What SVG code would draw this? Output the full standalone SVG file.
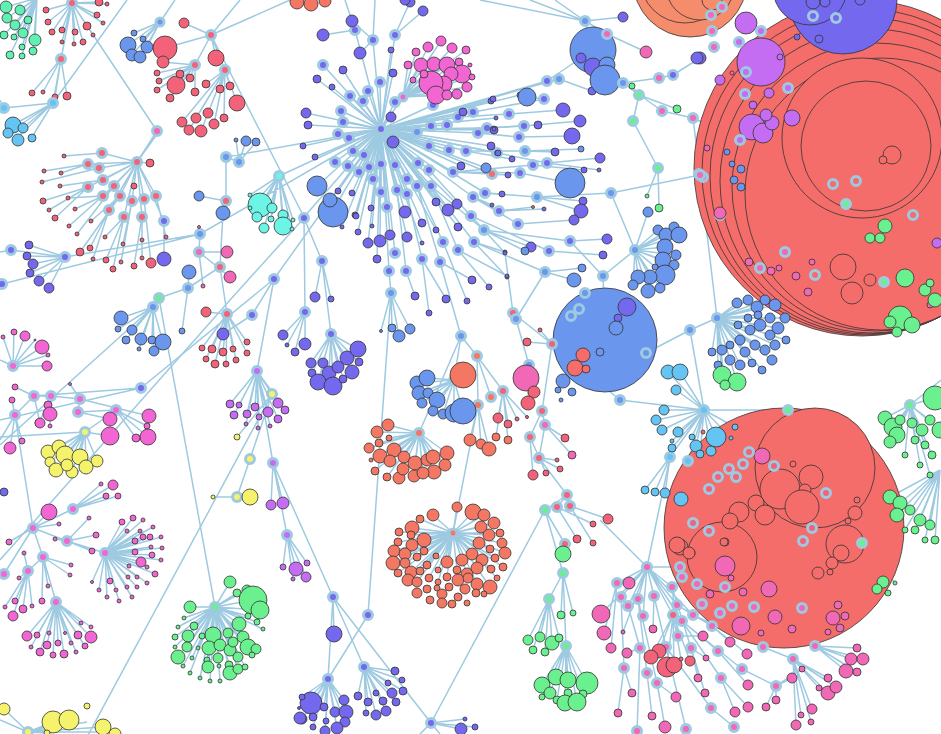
<svg xmlns="http://www.w3.org/2000/svg" width="941" height="734" viewBox="0 0 941 734">
<style>
.e{fill:none;stroke:#9ecae1;stroke-width:1.5}
.i{stroke:#9ecae1;stroke-width:3}
.l{stroke:#333;stroke-width:.8}
.pu{fill:#7468ee}.bl{fill:#6a96ee}.sk{fill:#64c4f4}.rd{fill:#f46d6a}.or{fill:#f47763}.sa{fill:#f58c6c}
.pk{fill:#f068b6}.mg{fill:#f266d4}.vi{fill:#c46cf2}.ye{fill:#f5f26c}.gr{fill:#6af08e}.mi{fill:#60f0b2}.cy{fill:#6cf4e6}.rp{fill:#f2637a}
</style>
<rect width="941" height="734" fill="#fff"/>
<g id="links" class="e">
<path d="M381 129L323 65M381 129L380 82M381 129L368 91M381 129L350 96M381 129L363 101M381 129L341 111M381 129L343 122M381 129L338 134M381 129L349 138M381 129L353 151M381 129L364 155M381 129L335 162M381 129L348 166M381 129L369 167M381 129L359 172M381 129L373 179M381 129L381 164M381 129L395 165M381 129L397 190M381 129L381 192M381 129L387 207M381 129L407 179M381 129L417 186M381 129L407 194M381 129L418 163M381 129L429 170M381 129L431 186M381 129L453 172M381 129L466 151M381 129L449 150M381 129L429 146M381 129L431 126M381 129L447 125M381 129L458 117M381 129L473 112M381 129L478 133M381 129L487 128M381 129L417 132M381 129L395 102M381 129L433 105M381 129L473 197M381 129L485 193M381 129L497 153M381 129L304 217M381 129L373 40M381 129L355 30M381 129L395 35M381 129L547 81M381 129L559 79M381 129L544 99M381 129L395 253M381 129L389 271M381 129L403 97"/>
<path d="M458 117L509 114M487 128L524 126M478 133L519 137M466 151L525 151M453 172L533 165M497 153L547 163M453 172L520 173M485 193L537 197M473 197L499 211M473 197L518 224M431 186L484 230M431 186L474 242M397 190L406 271M407 194L422 259M417 186L440 262M417 186L443 242M431 186L458 250M429 170L471 216M471 216L549 251M474 242L545 272M484 230L570 241"/>
<path d="M381 129L343 70M381 129L317 79M381 129L332 87M381 129L393 73M381 129L306 113M381 129L308 125M381 129L303 146M381 129L315 157M381 129L391 117M381 129L393 142M381 129L463 112M381 129L491 101M381 129L494 130M381 129L491 146M381 129L461 166M381 129L498 153M381 129L457 204M381 129L448 210M381 129L436 202M381 129L405 212M381 129L371 208M381 129L355 215M381 129L352 193M381 129L338 191M381 129L520 95M381 129L493 99M381 129L496 118M381 129L494 129M381 129L486 168M381 129L368 243M381 129L380 241M381 129L390 235M381 129L377 259M381 129L358 232M381 129L356 216M381 129L372 226M381 129L342 227M381 129L422 223M381 129L436 230M381 129L458 227M381 129L407 237M381 129L422 243M381 129L492 174M373 40L352 21M355 30L323 35M373 40L360 53M395 35L410 2M395 35L423 11M381 129L391 50M381 129L317 186M381 129L330 200M381 129L333 210M373 40L375 0M355 30L345 0"/>
<path d="M509 114L563 110M524 126L580 121M519 137L572 136M487 128L538 125M525 151L555 152M525 151L581 149M466 151L512 159M547 163L600 158M547 163L599 170M453 172L508 175M520 173L570 183M533 165L584 170M485 193L502 194M473 197L492 205M499 211L533 207M499 211L544 209M537 197L583 201M537 197L581 211M518 224L574 220M570 241L607 239M549 251L603 255M484 230L531 247M484 230L525 251M545 272L582 268M545 272L574 280M474 242L505 252M474 242L507 277M544 99L527 97M406 271L415 296M422 259L446 299M422 259L429 313M440 262L472 280M458 250L489 287M458 250L507 276M443 242L467 301M471 216L505 253M559 79L592 91M547 81L581 58"/>
<path d="M403 97L408 65M403 97L421 65M403 97L434 64M403 97L447 65M403 97L459 62M403 97L470 65M403 97L462 74M403 97L451 74M403 97L444 84M403 97L431 83M403 97L436 95M403 97L447 95M403 97L457 94M403 97L467 87M403 97L472 77M403 97L424 74M403 97L428 47M403 97L441 41M403 97L452 48M403 97L416 52M403 97L466 50M403 97L413 80"/>
<path d="M585 21L593 50M585 21L623 17M585 21L607 34M607 34L646 52M585 21L555 0M585 21L480 0M585 21L530 0M593 67L623 83M623 83L659 78M659 78L673 75M673 75L700 58M623 83L662 111M662 111L693 118M623 83L639 95M639 95L632 86M639 95L677 109M639 95L633 121M633 121L658 168M658 168L647 196M658 168L659 208M537 197L611 193M611 193L700 175M611 193L635 250M603 276L635 250M570 241L603 276M603 276L605 330M693 118L740 140M693 118L700 175"/>
<path d="M635 250L658 230M635 250L666 235M635 250L674 227M635 250L679 235M635 250L665 247M635 250L676 255M635 250L663 260M635 250L674 265M635 250L655 267M635 250L665 275M635 250L650 277M635 250L638 277M635 250L633 285M635 250L648 291M635 250L660 288M635 250L648 212"/>
<path d="M37 -2L6 7M37 -2L7 18M37 -2L15 25M37 -2L23 33M37 -2L14 37M37 -2L35 40M37 -2L4 35M37 -2L22 47M37 -2L33 51M37 -2L10 55M37 -2L22 56M37 -2L20 10M37 -2L28 20"/>
<path d="M72 3L46 10M72 3L48 22M72 3L52 32M72 3L62 30M72 3L75 32M72 3L62 42M72 3L74 44M72 3L83 42M72 3L87 26M72 3L97 15M72 3L103 23M72 3L93 35M72 3L99 2M72 3L107 4M72 3L61 59M61 59L32 93M61 59L43 92M61 59L55 97M61 59L67 96M61 59L53 103M53 103L13 125M53 103L23 128M53 103L8 133M53 103L18 137M53 103L32 137M53 103L4 108M72 3L157 131M127 0L53 103M157 131L137 162M4 108L0 100"/>
<path d="M160 22L128 45M160 22L134 33M160 22L143 39M160 22L147 47M160 22L132 55M160 22L140 57M160 22L175 0M211 35L165 48M211 35L184 23M211 35L216 58M211 35L195 65M211 35L225 70M211 35L240 0M195 65L163 62M195 65L176 85M195 65L180 74M195 65L190 78M195 65L195 92M195 65L170 98M195 65L157 73M195 65L159 81M195 65L157 90M225 70L206 84M225 70L220 89M225 70L230 86M225 70L237 103M225 70L208 113M225 70L196 118M225 70L182 122M225 70L189 130M225 70L201 131M225 70L214 124M225 70L224 118M211 35L290 0M211 35L304 217"/>
<path d="M137 162L102 153M137 162L88 164M137 162L99 168M137 162L103 180M137 162L114 186M137 162L88 187M137 162L103 196M137 162L120 196M137 162L132 201M137 162L144 199M137 162L156 196M137 162L109 210M137 162L124 217M137 162L142 217M137 162L150 163M137 162L134 186M137 162L164 221M164 221L164 259M102 153L64 156M88 164L44 171M88 164L61 173M99 168L42 182M103 180L60 186M88 187L43 201M88 187L49 210M88 187L55 218M103 196L68 198M103 196L75 209M114 186L69 226M114 186L77 234M120 196L91 221M120 196L80 252M109 210L90 248M109 210L93 259M124 217L106 260M124 217L113 269M124 217L105 237M132 201L123 244M132 201L121 262M142 217L142 240M142 217L134 266M142 217L142 258M144 199L151 263M156 196L166 237M137 162L160 130"/>
<path d="M65 257L29 245M65 257L27 256M65 257L33 264M65 257L30 273M65 257L39 281M65 257L49 288M65 257L11 250M11 250L0 252M65 257L200 234M2 284L200 234M0 285L2 284M200 234L381 129M200 234L199 252M199 252L227 252M199 252L230 277M199 252L203 286M200 234L199 227M226 157L226 201M226 201L223 213M226 157L239 162M239 162L246 141M239 162L256 142M239 162L236 140M226 201L199 196M223 213L220 267M220 267L227 314M220 267L188 288M188 288L189 272M188 288L182 331M188 288L159 298M159 298L153 307M159 298L215 607M153 307L0 445M153 307L121 318M153 307L118 329M153 307L132 330M153 307L126 340M153 307L141 339M153 307L152 340M153 307L163 342M153 307L154 351M153 307L139 349M226 157L381 129M279 176L381 129M279 176L260 205M279 176L272 208M279 176L257 217M279 176L264 228M279 176L271 219M279 176L283 215M279 176L283 226M279 176L250 195M279 176L250 208M279 176L293 220M279 176L292 229M274 279L381 129M274 279L252 315M252 315L223 334M227 314L206 312M227 314L202 348M227 314L212 349M227 314L223 352M227 314L233 349M227 314L247 342M227 314L247 353M227 314L206 359M227 314L215 364M227 314L226 364M227 314L236 360M274 279L257 371M141 388L274 279M0 420L141 388M141 388L34 396"/>
<path d="M257 371L230 404M257 371L239 405M257 371L234 415M257 371L247 414M257 371L255 407M257 371L259 417M257 371L268 412M257 371L278 403M257 371L285 410M257 371L278 419M257 371L246 424M257 371L258 428M257 371L270 426M257 371L272 394M272 394L237 437M272 394L80 750M272 394L250 459M250 459L237 497M237 497L250 497M237 497L213 497M257 371L273 463M273 463L271 505M273 463L283 503M273 463L287 535M287 535L283 567M287 535L296 569M287 535L306 577M287 535L293 579M287 535L307 563M273 463L333 597"/>
<path d="M13 366L14 332M13 366L25 336M13 366L42 347M13 366L47 366M13 366L48 355M13 366L35 340M13 366L3 337M13 366L0 360M15 415L34 396M34 396L51 396M51 396L80 399M80 399L149 416M80 399L78 412M78 412L110 419M116 410L148 437M78 412L116 410M116 410L147 426M116 410L136 438M34 396L15 387M80 399L70 384M15 415L12 400M51 396L48 405M51 396L50 414M51 396L39 423M51 396L50 426M15 415L10 448M15 415L22 441M34 396L40 423M15 415L33 528M0 440L15 415M85 432L48 452M85 432L59 447M85 432L65 455M85 432L80 457M85 432L97 461M85 432L50 462M85 432L56 470M85 432L72 472M85 432L86 467M85 432L67 465M85 432L116 410M85 432L110 436M0 437L85 432"/>
<path d="M33 528L73 509M33 528L67 541M67 541L105 553M33 528L43 557M43 557L28 571M33 528L4 574M43 557L56 602M73 509L101 484M73 509L113 485M73 509L106 496M73 509L118 496M33 528L49 512M33 528L59 524M33 528L9 542M67 541L55 539M67 541L89 518M67 541L96 535M67 541L92 551M43 557L71 565M43 557L70 575M43 557L48 586M43 557L42 601M28 571L19 578M28 571L15 601M28 571L23 609M28 571L13 616M28 571L32 606M28 571L5 607M28 571L24 553"/>
<path d="M105 553L122 522M105 553L133 518M105 553L143 520M105 553L153 527M105 553L161 537M105 553L162 548M105 553L161 560M105 553L155 574M105 553L147 583M105 553L137 587M105 553L132 597M105 553L119 601M105 553L107 597M105 553L99 590M105 553L92 582M105 553L110 581M105 553L116 590M105 553L127 587M105 553L137 577M105 553L147 567M105 553L152 555M105 553L151 547M105 553L141 562M105 553L135 552M105 553L129 566M105 553L128 577M105 553L135 541M105 553L143 537M105 553L150 537M105 553L140 531M105 553L127 531"/>
<path d="M56 602L27 636M56 602L37 635M56 602L49 633M56 602L65 633M56 602L78 635M56 602L91 637M56 602L81 623M56 602L91 627M56 602L47 645M56 602L58 643M56 602L71 643M56 602L85 646M56 602L31 647M56 602L40 652M56 602L53 655M56 602L64 654M56 602L76 652"/>
<path d="M215 607L230 582M215 607L190 607M215 607L237 593M215 607L247 590M215 607L253 600M215 607L260 610M215 607L248 616M215 607L257 622M215 607L263 629M215 607L239 624M215 607L228 633M215 607L213 635M215 607L202 636M215 607L194 626M215 607L184 618M215 607L178 627M215 607L175 637M215 607L188 636M215 607L187 647M215 607L175 647M215 607L178 657M215 607L183 666M215 607L192 658M215 607L198 648M215 607L209 648M215 607L220 645M215 607L230 650M215 607L233 642M215 607L243 637M215 607L248 647M215 607L256 649M215 607L252 655M215 607L238 657M215 607L229 665M215 607L218 658M215 607L207 660M215 607L208 667M215 607L219 666M215 607L230 673M215 607L238 669M215 607L245 667M215 607L200 678M215 607L210 681M215 607L220 681M215 607L190 673"/>
<path d="M28 732L4 709M28 732L53 722M28 732L69 720M28 732L87 722M28 732L103 727M28 732L115 732M28 732L47 733M28 732L0 720"/>
<path d="M304 218L322 261M322 261L315 297M322 261L331 299M322 261L331 334M304 218L305 312M305 312L283 335M305 312L287 345M305 312L295 352M305 312L305 344M331 334L311 363M331 334L312 373M331 334L323 363M331 334L329 373M331 334L318 382M331 334L333 386M331 334L338 367M331 334L347 358M331 334L358 349M331 334L359 362M331 334L352 372M331 334L343 379M389 271L391 293M391 293L392 328M391 293L399 336M391 293L410 329M391 293L381 331M391 293L368 615M304 218L230 300M230 300L0 560"/>
<path d="M440 262L461 336M461 336L477 356M461 336L454 380M454 380L417 383M454 380L427 378M454 380L419 393M454 380L428 393M454 380L422 403M454 380L437 400M454 380L433 411M454 380L443 414M454 380L454 413M454 380L463 411M454 380L463 375M461 336L419 433M419 433L377 432M419 433L388 425M419 433L389 438M419 433L369 448M419 433L379 443M419 433L394 450M419 433L380 456M419 433L390 461M419 433L404 457M419 433L415 463M419 433L427 460M419 433L433 457M419 433L447 453M419 433L445 465M419 433L434 472M419 433L414 476M419 433L399 478M419 433L387 477M419 433L375 471M419 433L403 469M419 433L423 473M419 433L371 460M477 356L478 405M478 405L470 440M478 405L481 444M478 405L489 449M477 356L491 397M477 356L503 391M503 391L498 418M503 391L508 424M503 391L496 437M503 391L508 440M503 391L517 419M503 391L527 417M478 405L453 533"/>
<path d="M453 533L457 507M453 533L473 512M453 533L484 515M453 533L433 515M453 533L420 519M453 533L494 523M453 533L481 527M453 533L412 528M453 533L399 532M453 533L411 535M453 533L424 540M453 533L489 535M453 533L500 533M453 533L398 542M453 533L412 545M453 533L394 551M453 533L405 554M453 533L424 551M453 533L479 543M453 533L502 543M453 533L490 549M453 533L505 553M453 533L472 554M453 533L436 556M453 533L447 562M453 533L462 560M453 533L482 560M453 533L495 558M453 533L503 567M453 533L393 563M453 533L405 563M453 533L417 557M453 533L427 565M453 533L411 572M453 533L420 571M453 533L438 570M453 533L447 577M453 533L457 570M453 533L467 574M453 533L477 568M453 533L491 569M453 533L398 573M453 533L408 580M453 533L417 582M453 533L429 578M453 533L438 582M453 533L458 580M453 533L468 578M453 533L477 584M453 533L490 587M453 533L497 578"/>
<path d="M545 272L516 319M516 319L529 365M513 313L552 344M505 253L513 313M552 344L527 342M552 344L540 330M552 344L542 411M542 411L545 425M542 411L530 437M545 425L539 458M539 458L567 495M539 458L557 460M539 458L560 469M545 425L565 438M545 425L572 455M530 437L533 475M530 437L546 473M529 365L526 378M529 365L534 392M529 365L528 403M567 495L545 510M567 495L557 507M567 495L570 506M545 510L565 544M545 510L563 573M557 507L593 524M557 507L577 539M570 506L593 543M570 506L608 519M545 510L431 723M565 544L563 554M563 573L549 599M563 573L566 646M563 573L561 615M563 573L573 613M549 599L528 640M549 599L540 637M549 599L533 650M549 599L545 652M549 599L552 643M549 599L559 638M566 646L542 685M566 646L556 677M566 646L568 680M566 646L587 683M566 646L550 693M566 646L568 693M566 646L583 694M566 646L557 700M566 646L565 703M566 646L577 702M566 646L542 697"/>
<path d="M333 597L334 634M333 597L328 679M333 597L364 667M368 615L328 679M333 597L431 723M328 679L311 703M328 679L302 697M328 679L299 708M328 679L313 717M328 679L302 719M328 679L324 707M328 679L335 712M328 679L344 700M328 679L346 712M328 679L326 721M328 679L345 722M328 679L337 728M328 679L325 731M328 679L313 727M364 667L358 696M364 667L368 702M364 667L376 693M364 667L388 683M364 667L395 671M364 667L402 680M364 667L403 691M364 667L392 693M364 667L383 701M364 667L396 702M364 667L386 711M364 667L376 715M364 667L366 713M431 723L461 729M431 723L465 719M431 723L475 727M431 723L420 734M431 723L440 734"/>
<path d="M647 567L617 583M647 567L621 597M647 567L628 606M647 567L638 599M647 567L654 596M647 567L672 587M647 567L677 605M647 567L682 621M647 567L693 615M647 567L643 616M647 567L673 615M647 567L629 583M647 567L601 614M647 567L623 632M647 567L600 520M647 567L670 457M647 567L680 567M617 583L604 633M617 583L611 648M621 597L624 668M624 668L618 713M624 668L632 693M628 606L640 648M640 648L627 653M640 648L637 731M638 599L647 673M647 673L652 716M638 599L657 683M657 683L676 697M657 683L665 727M654 596L653 629M654 596L666 647M666 647L686 729M672 587L678 636M678 636L703 636M672 587L691 648M691 648L706 658M691 648L698 678M691 648L705 693M677 605L712 626M712 626L730 642M712 626L747 654M682 621L718 651M718 651L748 685M682 621L742 669M742 669L776 686M776 686L792 678M776 686L802 669M776 686L766 707M776 686L776 700M693 615L763 647M763 647L793 659M793 659L828 678M793 659L828 693M793 659L836 687M793 659L819 688M793 659L812 709M793 659L801 715M793 659L811 722M793 659L796 725M682 621L721 678M721 678L735 712M721 678L748 707M666 647L711 708M711 708L734 727M777 600L815 646M815 646L846 671M815 646L857 672M815 646L851 659M815 646L863 659M815 646L857 648M673 615L659 651M673 615L651 657M673 615L667 667M673 615L674 665M673 615L690 661M673 615L681 659"/>
<path d="M704 410L716 437M704 410L696 446M704 410L711 451M704 410L700 454M704 410L678 432M704 410L672 441M704 410L692 437M704 410L735 427M704 410L731 438M704 410L668 372M704 410L680 372M704 410L676 390M704 410L664 410M704 410L656 420M704 410L662 430M704 410L672 448M704 410L670 457M704 410L688 461M670 457L665 493M670 457L645 490M670 457L655 492M688 461L681 499M704 410L690 330M690 330L717 318M690 330L646 353M646 353L605 340M704 410L788 410M704 410L620 400M620 400L552 344"/>
<path d="M717 318L737 303M717 318L748 300M717 318L757 307M717 318L765 300M717 318L775 305M717 318L785 318M717 318L778 328M717 318L770 335M717 318L760 325M717 318L750 330M717 318L740 340M717 318L730 345M717 318L745 352M717 318L755 345M717 318L765 350M717 318L775 345M717 318L786 340M717 318L738 325M717 318L748 318M717 318L758 315M717 318L770 318M717 318L722 350M717 318L712 352M717 318L730 360M717 318L740 365M717 318L752 363M717 318L762 370M717 318L772 360M717 318L718 365M717 318L722 375M717 318L737 382M717 318L725 385M717 318L700 175"/>
<path d="M910 405L885 418M910 405L893 427M910 405L897 435M910 405L890 442M910 405L900 420M910 405L912 423M910 405L922 430M910 405L930 420M910 405L935 398M910 405L940 430M910 405L925 445M910 405L915 440M910 405L905 455M910 405L932 455M910 405L920 465M910 405L930 475M910 405L941 380M862 543L883 582M862 543L877 589M862 543L888 593M862 543L895 583M940 470L890 497M940 470L900 503M940 470L897 515M940 470L910 510M940 470L920 520M940 470L930 525M940 470L935 540M940 470L925 540M940 470L915 530M940 470L905 530"/>
</g>
<g id="big">
<circle class="l rd" cx="862" cy="168" r="168"/>
<circle class="l rd" cx="865" cy="172" r="163"/>
<circle class="l rd" cx="868" cy="176" r="158"/>
<circle class="l rd" cx="872" cy="181" r="152"/>
<circle class="l rd" cx="876" cy="187" r="144"/>
<circle class="l rd" cx="881" cy="194" r="136"/>
<circle class="l rd" cx="862" cy="138" r="80"/>
<circle class="l rd" cx="866" cy="146" r="65"/>
<circle class="l rd" cx="892" cy="155" r="9"/>
<circle class="l rd" cx="883" cy="160" r="4"/>
<circle class="l rd" cx="843" cy="267" r="13"/>
<circle class="l rd" cx="852" cy="293" r="11"/>
<circle class="l rd" cx="870" cy="280" r="6"/>
<circle class="l sa" cx="690" cy="-20" r="57"/>
<circle class="l sa" cx="685" cy="-22" r="45"/>
<circle class="l sa" cx="700" cy="-14" r="34"/>
<circle class="l sa" cx="712" cy="0" r="10"/>
<circle class="l pu" cx="843" cy="0" r="54"/>
<circle class="l pu" cx="810" cy="-12" r="37"/>
<circle class="l pu" cx="813" cy="2" r="7"/>
<circle class="l pu" cx="825" cy="2" r="5"/>
<circle class="l pu" cx="860" cy="0" r="5"/>
<circle class="l pu" cx="819" cy="39" r="4"/>
<circle class="l rd" cx="784" cy="528" r="120"/>
<circle class="l rd" cx="815" cy="468" r="60"/>
<circle class="l rd" cx="780" cy="489" r="20"/>
<circle class="l rd" cx="811" cy="477" r="12"/>
<circle class="l rd" cx="805" cy="490" r="6"/>
<circle class="l rd" cx="802" cy="507" r="17"/>
<circle class="l rd" cx="722" cy="557" r="35"/>
<circle class="l rd" cx="739" cy="512" r="10"/>
<circle class="l rd" cx="756" cy="503" r="8"/>
<circle class="l rd" cx="765" cy="515" r="10"/>
<circle class="l rd" cx="730" cy="521" r="8"/>
<circle class="l rd" cx="680" cy="547" r="8"/>
<circle class="l rd" cx="690" cy="553" r="5"/>
<circle class="l rd" cx="725" cy="542" r="4"/>
<circle class="l rd" cx="845" cy="544" r="19"/>
<circle class="l rd" cx="841" cy="553" r="8"/>
<circle class="l rd" cx="832" cy="563" r="6"/>
<circle class="l rd" cx="818" cy="573" r="6"/>
<circle class="l rd" cx="855" cy="513" r="7"/>
<circle class="l rd" cx="848" cy="521" r="3"/>
<circle class="l rd" cx="830" cy="572" r="3"/>
<circle class="l rd" cx="857" cy="500" r="3"/>
<circle class="l rd" cx="793" cy="464" r="3"/>
<circle class="l rd" cx="675" cy="539" r="1.5"/>
<circle class="l rd" cx="677" cy="545" r="8"/>
<circle class="l rd" cx="689" cy="553" r="6"/>
<circle class="l rd" cx="724" cy="542" r="4"/>
<circle class="l bl" cx="605" cy="340" r="52"/>
<circle class="l pu" cx="627" cy="307" r="9"/>
<circle class="l pu" cx="618" cy="318" r="4"/>
<circle class="l bl" cx="616" cy="328" r="7"/>
<circle class="l bl" cx="600" cy="352" r="4"/>
<circle class="l rd" cx="583" cy="355" r="7"/>
<circle class="l rd" cx="575" cy="368" r="8"/>
<circle class="l rd" cx="586" cy="369" r="4"/>
<circle class="i bl" cx="571" cy="316" r="4.5"/>
<circle class="i bl" cx="579" cy="309" r="4.5"/>
<circle class="i bl" cx="646" cy="353" r="4.5"/>
<circle class="i bl" cx="585" cy="293" r="4.5"/>
<circle class="l bl" cx="593" cy="50" r="23"/>
</g>
<g id="main">
<circle class="i pu" cx="381" cy="129" r="4.5"/>
<circle class="i pu" cx="323" cy="65" r="4.5"/><circle class="i pu" cx="380" cy="82" r="4.5"/><circle class="i pu" cx="368" cy="91" r="4.5"/><circle class="i pu" cx="350" cy="96" r="4.5"/><circle class="i pu" cx="363" cy="101" r="4.5"/><circle class="i pu" cx="341" cy="111" r="4.5"/><circle class="i pu" cx="343" cy="122" r="4.5"/><circle class="i pu" cx="338" cy="134" r="4.5"/><circle class="i pu" cx="349" cy="138" r="4.5"/><circle class="i pu" cx="353" cy="151" r="4.5"/><circle class="i pu" cx="364" cy="155" r="4.5"/><circle class="i pu" cx="335" cy="162" r="4.5"/><circle class="i pu" cx="348" cy="166" r="4.5"/><circle class="i pu" cx="369" cy="167" r="4.5"/><circle class="i pu" cx="359" cy="172" r="4.5"/><circle class="i pu" cx="373" cy="179" r="4.5"/><circle class="i pu" cx="381" cy="164" r="4.5"/><circle class="i pu" cx="395" cy="165" r="4.5"/><circle class="i pu" cx="397" cy="190" r="4.5"/><circle class="i pu" cx="381" cy="192" r="4.5"/><circle class="i pu" cx="387" cy="207" r="4.5"/><circle class="i pu" cx="407" cy="179" r="4.5"/><circle class="i pu" cx="417" cy="186" r="4.5"/><circle class="i pu" cx="407" cy="194" r="4.5"/><circle class="i pu" cx="418" cy="163" r="4.5"/><circle class="i pu" cx="429" cy="170" r="4.5"/><circle class="i pu" cx="431" cy="186" r="4.5"/><circle class="i pu" cx="453" cy="172" r="4.5"/><circle class="i pu" cx="466" cy="151" r="4.5"/><circle class="i pu" cx="449" cy="150" r="4.5"/><circle class="i pu" cx="429" cy="146" r="4.5"/><circle class="i pu" cx="431" cy="126" r="4.5"/><circle class="i pu" cx="447" cy="125" r="4.5"/><circle class="i pu" cx="458" cy="117" r="4.5"/><circle class="i pu" cx="473" cy="112" r="4.5"/><circle class="i pu" cx="478" cy="133" r="4.5"/><circle class="i pu" cx="487" cy="128" r="4.5"/><circle class="i bl" cx="417" cy="132" r="4.5"/><circle class="i pu" cx="395" cy="102" r="4.5"/><circle class="i pu" cx="433" cy="105" r="4.5"/><circle class="i pu" cx="473" cy="197" r="4.5"/><circle class="i pu" cx="485" cy="193" r="4.5"/><circle class="i pu" cx="497" cy="153" r="4.5"/><circle class="i pu" cx="304" cy="218" r="4.5"/><circle class="i pu" cx="373" cy="40" r="4.5"/><circle class="i pu" cx="355" cy="30" r="4.5"/><circle class="i pu" cx="395" cy="35" r="4.5"/><circle class="i pu" cx="547" cy="81" r="4.5"/><circle class="i bl" cx="559" cy="79" r="4.5"/><circle class="i pu" cx="544" cy="99" r="4.5"/><circle class="i pu" cx="395" cy="253" r="4.5"/><circle class="i pu" cx="389" cy="271" r="4.5"/>
<circle class="i pu" cx="509" cy="114" r="4.5"/><circle class="i pu" cx="524" cy="126" r="4.5"/><circle class="i pu" cx="519" cy="137" r="4.5"/><circle class="i bl" cx="525" cy="151" r="4.5"/><circle class="i pu" cx="533" cy="165" r="4.5"/><circle class="i pu" cx="547" cy="163" r="4.5"/><circle class="i pu" cx="520" cy="173" r="4.5"/><circle class="i bl" cx="537" cy="197" r="4.5"/><circle class="i pu" cx="499" cy="211" r="4.5"/><circle class="i pu" cx="518" cy="224" r="4.5"/><circle class="i bl" cx="484" cy="230" r="4.5"/><circle class="i pu" cx="474" cy="242" r="4.5"/><circle class="i pu" cx="406" cy="271" r="4.5"/><circle class="i pu" cx="422" cy="259" r="4.5"/><circle class="i pu" cx="440" cy="262" r="4.5"/><circle class="i pu" cx="443" cy="242" r="4.5"/><circle class="i pu" cx="458" cy="250" r="4.5"/><circle class="i pu" cx="471" cy="216" r="4.5"/><circle class="i pu" cx="549" cy="251" r="4.5"/><circle class="i bl" cx="545" cy="272" r="4.5"/><circle class="i pu" cx="570" cy="241" r="4.5"/><circle class="i rd" cx="492" cy="174" r="4.5"/>
<circle class="l pu" cx="343" cy="70" r="4"/><circle class="l pu" cx="317" cy="79" r="4"/><circle class="l pu" cx="332" cy="87" r="3"/><circle class="l pu" cx="393" cy="73" r="4"/><circle class="l pu" cx="306" cy="113" r="5"/><circle class="l pu" cx="308" cy="125" r="4"/><circle class="l pu" cx="303" cy="146" r="3"/><circle class="l pu" cx="315" cy="157" r="3"/><circle class="l pu" cx="391" cy="117" r="5"/><circle class="l pu" cx="393" cy="142" r="6"/><circle class="l pu" cx="463" cy="112" r="4"/><circle class="l pu" cx="491" cy="101" r="3"/><circle class="l pu" cx="494" cy="130" r="4"/><circle class="l pu" cx="491" cy="146" r="4"/><circle class="l pu" cx="461" cy="166" r="4"/><circle class="l pu" cx="498" cy="153" r="3"/><circle class="l pu" cx="457" cy="204" r="5"/><circle class="l pu" cx="448" cy="210" r="6"/><circle class="l pu" cx="436" cy="202" r="4"/><circle class="l pu" cx="405" cy="212" r="6"/><circle class="l pu" cx="371" cy="208" r="3"/><circle class="l pu" cx="355" cy="215" r="3"/><circle class="l pu" cx="352" cy="193" r="3"/><circle class="l pu" cx="338" cy="191" r="3"/><circle class="l bl" cx="520" cy="95" r="3"/><circle class="l pu" cx="493" cy="99" r="3"/><circle class="l pu" cx="496" cy="118" r="2"/><circle class="l pu" cx="494" cy="129" r="2"/><circle class="l bl" cx="486" cy="168" r="5"/><circle class="l pu" cx="368" cy="243" r="5"/><circle class="l pu" cx="380" cy="241" r="6"/><circle class="l pu" cx="390" cy="235" r="5"/><circle class="l pu" cx="377" cy="259" r="4"/><circle class="l pu" cx="358" cy="232" r="3"/><circle class="l pu" cx="356" cy="216" r="3"/><circle class="l pu" cx="372" cy="226" r="2"/><circle class="l pu" cx="342" cy="227" r="2"/><circle class="l pu" cx="422" cy="223" r="4"/><circle class="l pu" cx="436" cy="230" r="3"/><circle class="l pu" cx="458" cy="227" r="4"/><circle class="l pu" cx="407" cy="237" r="5"/><circle class="l pu" cx="422" cy="243" r="2"/><circle class="l pu" cx="352" cy="21" r="6"/><circle class="l pu" cx="323" cy="35" r="6"/><circle class="l pu" cx="360" cy="53" r="6"/><circle class="l pu" cx="410" cy="2" r="5"/><circle class="l pu" cx="423" cy="11" r="5"/><circle class="l pu" cx="391" cy="50" r="3"/><circle class="l bl" cx="333" cy="212" r="15"/><circle class="l bl" cx="317" cy="186" r="10"/><circle class="l bl" cx="330" cy="200" r="7"/>
<circle class="l pu" cx="563" cy="110" r="7"/><circle class="l pu" cx="580" cy="121" r="6"/><circle class="l pu" cx="572" cy="136" r="8"/><circle class="l pu" cx="538" cy="125" r="4"/><circle class="l pu" cx="555" cy="152" r="4"/><circle class="l bl" cx="581" cy="149" r="3"/><circle class="l pu" cx="512" cy="159" r="3"/><circle class="l pu" cx="600" cy="158" r="5"/><circle class="l pu" cx="599" cy="170" r="2"/><circle class="l pu" cx="508" cy="175" r="3"/><circle class="l bl" cx="570" cy="183" r="15"/><circle class="l pu" cx="584" cy="170" r="3"/><circle class="l pu" cx="502" cy="194" r="3"/><circle class="l pu" cx="492" cy="205" r="2"/><circle class="l rd" cx="533" cy="207" r="1.5"/><circle class="l pu" cx="544" cy="209" r="2"/><circle class="l pu" cx="583" cy="201" r="4"/><circle class="l pu" cx="581" cy="211" r="7"/><circle class="l pu" cx="574" cy="220" r="5"/><circle class="l pu" cx="607" cy="239" r="5"/><circle class="l pu" cx="603" cy="255" r="4"/><circle class="l pu" cx="531" cy="247" r="5"/><circle class="l bl" cx="525" cy="251" r="4"/><circle class="l bl" cx="582" cy="268" r="4"/><circle class="l bl" cx="574" cy="280" r="7"/><circle class="l pu" cx="505" cy="252" r="2"/><circle class="l pu" cx="507" cy="277" r="2"/><circle class="l bl" cx="527" cy="97" r="9"/><circle class="l pu" cx="415" cy="296" r="4"/><circle class="l pu" cx="446" cy="299" r="4"/><circle class="l pu" cx="429" cy="313" r="3"/><circle class="l pu" cx="472" cy="280" r="4"/><circle class="l pu" cx="489" cy="287" r="3"/><circle class="l pu" cx="507" cy="276" r="2"/><circle class="l pu" cx="467" cy="301" r="3"/><circle class="l pu" cx="505" cy="253" r="2"/><circle class="l pu" cx="592" cy="91" r="4"/>
</g>
<g id="magenta">
<circle class="i mg" cx="403" cy="97" r="4"/>
<circle class="l mg" cx="408" cy="65" r="4"/><circle class="l mg" cx="421" cy="65" r="7"/><circle class="l mg" cx="434" cy="64" r="7"/><circle class="l mg" cx="447" cy="65" r="8"/><circle class="l mg" cx="459" cy="62" r="4"/><circle class="l mg" cx="470" cy="65" r="2"/><circle class="l mg" cx="462" cy="74" r="9"/><circle class="l mg" cx="451" cy="74" r="7"/><circle class="l mg" cx="444" cy="84" r="8"/><circle class="l mg" cx="431" cy="83" r="12"/><circle class="l mg" cx="436" cy="95" r="9"/><circle class="l mg" cx="447" cy="95" r="5"/><circle class="l mg" cx="457" cy="94" r="5"/><circle class="l mg" cx="467" cy="87" r="5"/><circle class="l mg" cx="472" cy="77" r="3"/><circle class="l mg" cx="424" cy="74" r="4"/><circle class="l mg" cx="428" cy="47" r="5"/><circle class="l mg" cx="441" cy="41" r="5"/><circle class="l mg" cx="452" cy="48" r="5"/><circle class="l mg" cx="416" cy="52" r="4"/><circle class="l mg" cx="466" cy="50" r="4"/><circle class="l mg" cx="413" cy="80" r="3"/>
</g>
<g id="topright">
<circle class="i bl" cx="585" cy="21" r="4.5"/><circle class="i pk" cx="607" cy="34" r="4.5"/><circle class="l pu" cx="623" cy="17" r="5"/><circle class="l pk" cx="646" cy="52" r="6"/>
<circle class="l pu" cx="581" cy="58" r="5"/><circle class="l pu" cx="593" cy="67" r="9"/><circle class="l bl" cx="607" cy="65" r="8"/><circle class="l bl" cx="605" cy="80" r="15"/>
<circle class="i bl" cx="623" cy="83" r="4.5"/><circle class="i pk" cx="659" cy="78" r="4.5"/><circle class="i pu" cx="673" cy="75" r="4.5"/><circle class="i pk" cx="662" cy="111" r="4.5"/><circle class="i pk" cx="693" cy="118" r="4.5"/><circle class="i gr" cx="639" cy="95" r="4.5"/><circle class="i gr" cx="633" cy="121" r="4.5"/><circle class="i gr" cx="658" cy="168" r="4.5"/><circle class="i bl" cx="611" cy="193" r="4.5"/><circle class="i bl" cx="603" cy="276" r="4.5"/>
<circle class="l gr" cx="632" cy="86" r="3"/><circle class="l gr" cx="677" cy="109" r="4"/><circle class="l pu" cx="700" cy="58" r="6"/><circle class="l gr" cx="647" cy="196" r="2"/><circle class="l gr" cx="659" cy="208" r="4"/><circle class="l bl" cx="648" cy="212" r="5"/>
<circle class="i bl" cx="635" cy="250" r="4.5"/>
<circle class="l bl" cx="658" cy="230" r="5"/><circle class="l bl" cx="666" cy="235" r="7"/><circle class="l bl" cx="674" cy="227" r="5"/><circle class="l bl" cx="679" cy="235" r="8"/><circle class="l bl" cx="665" cy="247" r="8"/><circle class="l bl" cx="676" cy="255" r="5"/><circle class="l bl" cx="663" cy="260" r="8"/><circle class="l bl" cx="674" cy="265" r="5"/><circle class="l bl" cx="655" cy="267" r="3"/><circle class="l bl" cx="665" cy="275" r="10"/><circle class="l bl" cx="650" cy="277" r="7"/><circle class="l bl" cx="638" cy="277" r="7"/><circle class="l bl" cx="633" cy="285" r="5"/><circle class="l bl" cx="648" cy="291" r="7"/><circle class="l bl" cx="660" cy="288" r="5"/>
<circle class="l vi" cx="761" cy="62" r="24"/><circle class="l vi" cx="746" cy="23" r="11"/><circle class="l vi" cx="720" cy="80" r="5"/><circle class="l vi" cx="753" cy="105" r="4"/><circle class="l vi" cx="769" cy="93" r="5"/><circle class="l vi" cx="792" cy="118" r="8"/><circle class="l vi" cx="752" cy="127" r="13"/><circle class="l vi" cx="763" cy="133" r="10"/><circle class="l vi" cx="772" cy="123" r="7"/><circle class="l vi" cx="766" cy="115" r="6"/><circle class="l vi" cx="780" cy="57" r="3"/><circle class="l pu" cx="797" cy="37" r="3"/><circle class="l pu" cx="697" cy="58" r="6"/><circle class="l pk" cx="707" cy="148" r="3"/><circle class="l bl" cx="727" cy="152" r="3"/><circle class="l bl" cx="732" cy="164" r="3"/><circle class="l bl" cx="741" cy="169" r="4"/><circle class="l bl" cx="734" cy="180" r="4"/><circle class="l bl" cx="741" cy="187" r="4"/><circle class="l pk" cx="732" cy="73" r="2"/>
<circle class="i pk" cx="722" cy="7" r="4.5"/><circle class="i pk" cx="711" cy="15" r="4.5"/><circle class="i pk" cx="712" cy="31" r="4.5"/><circle class="i pk" cx="714" cy="47" r="4.5"/><circle class="i vi" cx="761" cy="31" r="4.5"/><circle class="i vi" cx="739" cy="42" r="4.5"/><circle class="i vi" cx="746" cy="72" r="4.5"/><circle class="i vi" cx="745" cy="94" r="4.5"/><circle class="i vi" cx="788" cy="88" r="4.5"/><circle class="i pu" cx="813" cy="16" r="4.5"/><circle class="i pu" cx="836" cy="18" r="4.5"/><circle class="i pk" cx="699" cy="174" r="4.5"/><circle class="i pk" cx="703" cy="177" r="4.5"/><circle class="i rd" cx="833" cy="184" r="4.5"/><circle class="i rd" cx="856" cy="181" r="4.5"/><circle class="i pk" cx="720" cy="215" r="4.5"/><circle class="i gr" cx="846" cy="204" r="4.5"/><circle class="i rd" cx="913" cy="215" r="4.5"/><circle class="i pk" cx="785" cy="252" r="4.5"/><circle class="i rd" cx="815" cy="275" r="4.5"/><circle class="i pk" cx="760" cy="268" r="4.5"/><circle class="i gr" cx="884" cy="282" r="4.5"/><circle class="i vi" cx="740" cy="140" r="4.5"/><circle class="i pk" cx="700" cy="175" r="4.5"/>
<circle class="l pk" cx="720" cy="213" r="6"/><circle class="l pk" cx="749" cy="262" r="4"/><circle class="l pk" cx="771" cy="271" r="4"/><circle class="l pk" cx="796" cy="276" r="4"/><circle class="l pk" cx="808" cy="292" r="4"/><circle class="l pk" cx="779" cy="268" r="3"/><circle class="l pk" cx="812" cy="262" r="3"/><circle class="l pk" cx="930" cy="305" r="3"/><circle class="l vi" cx="937" cy="243" r="5"/>
<circle class="l gr" cx="885" cy="226" r="7"/><circle class="l gr" cx="870" cy="238" r="5"/><circle class="l gr" cx="880" cy="238" r="5"/><circle class="l gr" cx="905" cy="278" r="9"/><circle class="l gr" cx="925" cy="290" r="6"/><circle class="l gr" cx="935" cy="300" r="7"/><circle class="l gr" cx="930" cy="283" r="4"/><circle class="l gr" cx="900" cy="318" r="12"/><circle class="l gr" cx="912" cy="325" r="8"/><circle class="l gr" cx="890" cy="322" r="6"/><circle class="l gr" cx="897" cy="332" r="5"/>
</g>
<g id="topleft">
<circle class="l mi" cx="6" cy="7" r="6"/><circle class="l mi" cx="7" cy="18" r="5"/><circle class="l mi" cx="15" cy="25" r="5"/><circle class="l mi" cx="23" cy="33" r="5"/><circle class="l mi" cx="14" cy="37" r="3"/><circle class="l mi" cx="35" cy="40" r="6"/><circle class="l mi" cx="4" cy="35" r="4"/><circle class="l mi" cx="22" cy="47" r="3"/><circle class="l mi" cx="33" cy="51" r="4"/><circle class="l mi" cx="10" cy="55" r="4"/><circle class="l mi" cx="22" cy="56" r="3"/><circle class="l mi" cx="20" cy="10" r="5"/><circle class="l mi" cx="28" cy="20" r="4"/>
<circle class="i rp" cx="72" cy="3" r="4.5"/><circle class="l rp" cx="46" cy="10" r="3"/><circle class="l rp" cx="48" cy="22" r="3"/><circle class="l rp" cx="52" cy="32" r="3"/><circle class="l rp" cx="62" cy="30" r="3"/><circle class="l rp" cx="75" cy="32" r="3"/><circle class="l rp" cx="62" cy="42" r="2"/><circle class="l rp" cx="74" cy="44" r="2"/><circle class="l rp" cx="83" cy="42" r="3"/><circle class="l rp" cx="87" cy="26" r="4"/><circle class="l rp" cx="97" cy="15" r="3"/><circle class="l rp" cx="103" cy="23" r="2"/><circle class="l rp" cx="93" cy="35" r="2"/><circle class="l rp" cx="99" cy="2" r="4"/><circle class="l rp" cx="107" cy="4" r="2"/>
<circle class="i rp" cx="61" cy="59" r="4.5"/><circle class="l rp" cx="32" cy="93" r="3"/><circle class="l rp" cx="43" cy="92" r="2"/><circle class="l rp" cx="55" cy="97" r="3"/><circle class="l rp" cx="67" cy="96" r="4"/>
<circle class="i sk" cx="53" cy="103" r="4.5"/><circle class="i sk" cx="4" cy="108" r="4.5"/><circle class="i pk" cx="157" cy="131" r="4.5"/>
<circle class="l sk" cx="13" cy="125" r="8"/><circle class="l sk" cx="23" cy="128" r="5"/><circle class="l sk" cx="8" cy="133" r="5"/><circle class="l sk" cx="18" cy="140" r="6"/><circle class="l sk" cx="32" cy="138" r="4"/>
<circle class="i bl" cx="160" cy="22" r="4"/><circle class="l bl" cx="128" cy="45" r="8"/><circle class="l bl" cx="134" cy="33" r="3"/><circle class="l bl" cx="143" cy="39" r="3"/><circle class="l bl" cx="147" cy="47" r="6"/><circle class="l bl" cx="132" cy="55" r="6"/><circle class="l bl" cx="140" cy="57" r="6"/>
<circle class="i rp" cx="211" cy="35" r="4.5"/><circle class="i rp" cx="195" cy="65" r="4.5"/><circle class="i rp" cx="225" cy="70" r="4.5"/>
<circle class="l rp" cx="165" cy="48" r="12"/><circle class="l rp" cx="184" cy="23" r="5"/><circle class="l rp" cx="216" cy="58" r="8"/><circle class="l rp" cx="237" cy="103" r="8"/><circle class="l rp" cx="208" cy="113" r="5"/><circle class="l rp" cx="196" cy="118" r="5"/><circle class="l rp" cx="182" cy="122" r="5"/><circle class="l rp" cx="189" cy="130" r="5"/><circle class="l rp" cx="201" cy="131" r="6"/><circle class="l rp" cx="214" cy="124" r="5"/><circle class="l rp" cx="224" cy="118" r="4"/><circle class="l rp" cx="176" cy="85" r="9"/><circle class="l rp" cx="163" cy="62" r="6"/><circle class="l rp" cx="180" cy="74" r="4"/><circle class="l rp" cx="190" cy="78" r="4"/><circle class="l rp" cx="195" cy="92" r="4"/><circle class="l rp" cx="206" cy="84" r="4"/><circle class="l rp" cx="220" cy="89" r="4"/><circle class="l rp" cx="230" cy="86" r="4"/><circle class="l rp" cx="170" cy="98" r="4"/><circle class="l rp" cx="157" cy="73" r="3"/><circle class="l rp" cx="159" cy="81" r="3"/><circle class="l rp" cx="157" cy="90" r="3"/>
<circle class="l or" cx="297" cy="2" r="7"/><circle class="l or" cx="311" cy="4" r="7"/><circle class="l or" cx="325" cy="1" r="6"/><circle class="l pu" cx="405" cy="0" r="5"/>
</g>
<g id="leftfan">
<circle class="i rp" cx="137" cy="162" r="4.5"/>
<circle class="i rp" cx="102" cy="153" r="4.5"/><circle class="i rp" cx="88" cy="164" r="4.5"/><circle class="i rp" cx="99" cy="168" r="4.5"/><circle class="i rp" cx="103" cy="180" r="4.5"/><circle class="i rp" cx="114" cy="186" r="4.5"/><circle class="i rp" cx="88" cy="187" r="4.5"/><circle class="i rp" cx="103" cy="196" r="4.5"/><circle class="i rp" cx="120" cy="196" r="4.5"/><circle class="i rp" cx="132" cy="201" r="4.5"/><circle class="i rp" cx="144" cy="199" r="4.5"/><circle class="i rp" cx="156" cy="196" r="4.5"/><circle class="i rp" cx="109" cy="210" r="4.5"/><circle class="i rp" cx="124" cy="217" r="4.5"/><circle class="i rp" cx="142" cy="217" r="4.5"/><circle class="i pu" cx="164" cy="221" r="4.5"/>
<circle class="l rp" cx="64" cy="156" r="2"/><circle class="l rp" cx="44" cy="171" r="2"/><circle class="l rp" cx="61" cy="173" r="2"/><circle class="l rp" cx="42" cy="182" r="2"/><circle class="l rp" cx="60" cy="186" r="2"/><circle class="l rp" cx="43" cy="201" r="3"/><circle class="l rp" cx="68" cy="198" r="2"/><circle class="l rp" cx="49" cy="210" r="2"/><circle class="l rp" cx="75" cy="209" r="2"/><circle class="l rp" cx="55" cy="218" r="3"/><circle class="l rp" cx="91" cy="221" r="2"/><circle class="l rp" cx="69" cy="226" r="2"/><circle class="l rp" cx="77" cy="234" r="2"/><circle class="l rp" cx="105" cy="237" r="2"/><circle class="l rp" cx="123" cy="244" r="2"/><circle class="l rp" cx="142" cy="240" r="2"/><circle class="l rp" cx="90" cy="248" r="3"/><circle class="l rp" cx="80" cy="252" r="4"/><circle class="l rp" cx="93" cy="259" r="2"/><circle class="l rp" cx="106" cy="260" r="3"/><circle class="l rp" cx="121" cy="262" r="2"/><circle class="l rp" cx="113" cy="269" r="3"/><circle class="l rp" cx="134" cy="266" r="3"/><circle class="l rp" cx="142" cy="258" r="2"/><circle class="l rp" cx="151" cy="263" r="5"/><circle class="l rp" cx="166" cy="237" r="2"/><circle class="l rp" cx="150" cy="163" r="4"/><circle class="l rp" cx="134" cy="186" r="3"/><circle class="l pu" cx="164" cy="259" r="7"/>
</g>
<g id="leftmid">
<circle class="i pu" cx="65" cy="257" r="4.5"/><circle class="i pu" cx="11" cy="250" r="4.5"/><circle class="i pu" cx="2" cy="284" r="4.5"/>
<circle class="l pu" cx="29" cy="245" r="4"/><circle class="l pu" cx="27" cy="256" r="4"/><circle class="l pu" cx="33" cy="264" r="5"/><circle class="l pu" cx="30" cy="273" r="4"/><circle class="l pu" cx="39" cy="281" r="5"/><circle class="l pu" cx="49" cy="288" r="5"/>
<circle class="i bl" cx="226" cy="157" r="4.5"/><circle class="i bl" cx="239" cy="162" r="4.5"/><circle class="i rp" cx="226" cy="201" r="4.5"/><circle class="i bl" cx="200" cy="234" r="4.5"/><circle class="i pk" cx="199" cy="252" r="4.5"/><circle class="i rp" cx="220" cy="267" r="4.5"/><circle class="i bl" cx="188" cy="288" r="4.5"/><circle class="i gr" cx="159" cy="298" r="4.5"/><circle class="i bl" cx="153" cy="307" r="4.5"/><circle class="i rp" cx="227" cy="314" r="4.5"/><circle class="i pu" cx="252" cy="315" r="4.5"/><circle class="i pu" cx="274" cy="279" r="4.5"/><circle class="i cy" cx="279" cy="176" r="4.5"/><circle class="i pu" cx="141" cy="388" r="4.5"/>
<circle class="l bl" cx="199" cy="196" r="5"/><circle class="l bl" cx="223" cy="213" r="7"/><circle class="l pk" cx="199" cy="227" r="1.5"/><circle class="l pk" cx="227" cy="252" r="6"/><circle class="l pk" cx="230" cy="277" r="6"/><circle class="l pk" cx="203" cy="286" r="2"/><circle class="l bl" cx="189" cy="272" r="7"/><circle class="l bl" cx="182" cy="331" r="3"/><circle class="l rp" cx="206" cy="312" r="5"/><circle class="l pu" cx="223" cy="334" r="6"/><circle class="l bl" cx="246" cy="141" r="5"/><circle class="l bl" cx="256" cy="142" r="4"/><circle class="l bl" cx="236" cy="140" r="2"/>
<circle class="l cy" cx="260" cy="205" r="12"/><circle class="l cy" cx="272" cy="208" r="5"/><circle class="l cy" cx="257" cy="217" r="5"/><circle class="l cy" cx="264" cy="228" r="5"/><circle class="l cy" cx="271" cy="219" r="3"/><circle class="l cy" cx="283" cy="215" r="5"/><circle class="l cy" cx="283" cy="226" r="9"/><circle class="l cy" cx="250" cy="195" r="2"/><circle class="l cy" cx="250" cy="208" r="2"/><circle class="l cy" cx="293" cy="220" r="2"/><circle class="l cy" cx="292" cy="229" r="2"/>
<circle class="l bl" cx="121" cy="318" r="7"/><circle class="l bl" cx="118" cy="329" r="3"/><circle class="l bl" cx="132" cy="330" r="5"/><circle class="l bl" cx="126" cy="340" r="4"/><circle class="l bl" cx="141" cy="339" r="6"/><circle class="l bl" cx="152" cy="340" r="4"/><circle class="l bl" cx="163" cy="342" r="8"/><circle class="l bl" cx="154" cy="351" r="5"/><circle class="l bl" cx="139" cy="349" r="2"/>
<circle class="l rp" cx="202" cy="348" r="3"/><circle class="l rp" cx="212" cy="349" r="4"/><circle class="l rp" cx="223" cy="352" r="4"/><circle class="l rp" cx="233" cy="349" r="3"/><circle class="l rp" cx="247" cy="342" r="3"/><circle class="l rp" cx="247" cy="353" r="3"/><circle class="l rp" cx="206" cy="359" r="3"/><circle class="l rp" cx="215" cy="364" r="4"/><circle class="l rp" cx="226" cy="364" r="3"/><circle class="l rp" cx="236" cy="360" r="3"/>
</g>
<g id="violet">
<circle class="i vi" cx="257" cy="371" r="4.5"/><circle class="i ye" cx="272" cy="394" r="4.5"/>
<circle class="l vi" cx="230" cy="404" r="4"/><circle class="l vi" cx="239" cy="405" r="3"/><circle class="l vi" cx="234" cy="415" r="4"/><circle class="l vi" cx="247" cy="414" r="4"/><circle class="l vi" cx="255" cy="407" r="4"/><circle class="l vi" cx="259" cy="417" r="3"/><circle class="l vi" cx="268" cy="412" r="5"/><circle class="l vi" cx="278" cy="403" r="5"/><circle class="l vi" cx="285" cy="410" r="4"/><circle class="l vi" cx="278" cy="419" r="4"/><circle class="l vi" cx="246" cy="424" r="2"/><circle class="l vi" cx="258" cy="428" r="2"/><circle class="l vi" cx="270" cy="426" r="2"/><circle class="l ye" cx="237" cy="437" r="3"/>
<circle class="i ye" cx="250" cy="459" r="4.5"/><circle class="i ye" cx="237" cy="497" r="4.5"/><circle class="l ye" cx="250" cy="497" r="8"/><circle class="l ye" cx="213" cy="497" r="2"/>
<circle class="i vi" cx="273" cy="463" r="4.5"/><circle class="l vi" cx="271" cy="505" r="5"/><circle class="l vi" cx="283" cy="503" r="6"/>
<circle class="i vi" cx="287" cy="535" r="4.5"/><circle class="l vi" cx="283" cy="567" r="3"/><circle class="l vi" cx="296" cy="569" r="7"/><circle class="l vi" cx="306" cy="577" r="5"/><circle class="l vi" cx="293" cy="579" r="2"/><circle class="l vi" cx="307" cy="563" r="3"/>
</g>
<g id="leftpink">
<circle class="i mg" cx="13" cy="366" r="4.5"/><circle class="l mg" cx="14" cy="332" r="3"/><circle class="l mg" cx="25" cy="336" r="5"/><circle class="l mg" cx="42" cy="347" r="7"/><circle class="l mg" cx="47" cy="366" r="5"/><circle class="l mg" cx="48" cy="355" r="2"/><circle class="l mg" cx="35" cy="340" r="1"/><circle class="l mg" cx="3" cy="337" r="2"/>
<circle class="i mg" cx="15" cy="415" r="4.5"/><circle class="i mg" cx="34" cy="396" r="4.5"/><circle class="i mg" cx="51" cy="396" r="4.5"/><circle class="i mg" cx="80" cy="399" r="4.5"/><circle class="i mg" cx="78" cy="412" r="4.5"/><circle class="i mg" cx="116" cy="410" r="4.5"/>
<circle class="l mg" cx="15" cy="387" r="3"/><circle class="l mg" cx="70" cy="384" r="1.5"/><circle class="l mg" cx="12" cy="400" r="3"/><circle class="l mg" cx="48" cy="405" r="4"/><circle class="l mg" cx="50" cy="414" r="7"/><circle class="l mg" cx="39" cy="423" r="4"/><circle class="l mg" cx="50" cy="426" r="2"/><circle class="l mg" cx="110" cy="419" r="7"/><circle class="l mg" cx="149" cy="416" r="7"/><circle class="l mg" cx="147" cy="426" r="3"/><circle class="l mg" cx="10" cy="448" r="6"/><circle class="l mg" cx="22" cy="441" r="3"/><circle class="l mg" cx="40" cy="423" r="5"/><circle class="l mg" cx="110" cy="436" r="9"/><circle class="l mg" cx="148" cy="437" r="8"/><circle class="l mg" cx="136" cy="438" r="4"/>
<circle class="i ye" cx="85" cy="432" r="4.5"/><circle class="l ye" cx="48" cy="452" r="7"/><circle class="l ye" cx="59" cy="447" r="7"/><circle class="l ye" cx="65" cy="455" r="9"/><circle class="l ye" cx="80" cy="457" r="8"/><circle class="l ye" cx="97" cy="461" r="6"/><circle class="l ye" cx="50" cy="462" r="5"/><circle class="l ye" cx="56" cy="470" r="7"/><circle class="l ye" cx="72" cy="472" r="6"/><circle class="l ye" cx="86" cy="467" r="7"/><circle class="l ye" cx="67" cy="465" r="6"/>
<circle class="l pu" cx="4" cy="492" r="4"/>
<circle class="i mg" cx="33" cy="528" r="4.5"/><circle class="i mg" cx="73" cy="509" r="4.5"/><circle class="i mg" cx="67" cy="541" r="4.5"/><circle class="i mg" cx="43" cy="557" r="4.5"/><circle class="i mg" cx="28" cy="571" r="4.5"/><circle class="i mg" cx="4" cy="574" r="4.5"/><circle class="i mg" cx="105" cy="553" r="4.5"/><circle class="i mg" cx="56" cy="602" r="4.5"/>
<circle class="l mg" cx="49" cy="512" r="8"/><circle class="l mg" cx="101" cy="484" r="2"/><circle class="l mg" cx="113" cy="485" r="5"/><circle class="l mg" cx="106" cy="496" r="3"/><circle class="l mg" cx="118" cy="496" r="3"/><circle class="l mg" cx="89" cy="518" r="2"/><circle class="l mg" cx="96" cy="535" r="3"/><circle class="l mg" cx="59" cy="524" r="2"/><circle class="l mg" cx="55" cy="539" r="2"/><circle class="l mg" cx="92" cy="551" r="3"/><circle class="l mg" cx="9" cy="542" r="3"/><circle class="l mg" cx="24" cy="553" r="2"/><circle class="l mg" cx="71" cy="565" r="2"/><circle class="l mg" cx="70" cy="575" r="2"/><circle class="l mg" cx="48" cy="586" r="2"/><circle class="l mg" cx="42" cy="601" r="3"/><circle class="l mg" cx="19" cy="578" r="2"/><circle class="l mg" cx="15" cy="601" r="3"/><circle class="l mg" cx="23" cy="609" r="4"/><circle class="l mg" cx="13" cy="616" r="5"/><circle class="l mg" cx="32" cy="606" r="2"/><circle class="l mg" cx="5" cy="607" r="2"/>
<circle class="l mg" cx="122" cy="522" r="3"/><circle class="l mg" cx="133" cy="518" r="3"/><circle class="l mg" cx="143" cy="520" r="2"/><circle class="l mg" cx="153" cy="527" r="2"/><circle class="l mg" cx="161" cy="537" r="2"/><circle class="l mg" cx="162" cy="548" r="2"/><circle class="l mg" cx="161" cy="560" r="2"/><circle class="l mg" cx="155" cy="574" r="3"/><circle class="l mg" cx="147" cy="583" r="2"/><circle class="l mg" cx="137" cy="587" r="2"/><circle class="l mg" cx="132" cy="597" r="2"/><circle class="l mg" cx="119" cy="601" r="2"/><circle class="l mg" cx="107" cy="597" r="2"/><circle class="l mg" cx="99" cy="590" r="2"/><circle class="l mg" cx="92" cy="582" r="1.5"/><circle class="l mg" cx="110" cy="581" r="3"/><circle class="l mg" cx="116" cy="590" r="2"/><circle class="l mg" cx="127" cy="587" r="2"/><circle class="l mg" cx="137" cy="577" r="2"/><circle class="l mg" cx="147" cy="567" r="2"/><circle class="l mg" cx="152" cy="555" r="3"/><circle class="l mg" cx="151" cy="547" r="2"/><circle class="l mg" cx="141" cy="562" r="5"/><circle class="l mg" cx="135" cy="552" r="3"/><circle class="l mg" cx="129" cy="566" r="2"/><circle class="l mg" cx="128" cy="577" r="2"/><circle class="l mg" cx="135" cy="541" r="3"/><circle class="l mg" cx="143" cy="537" r="3"/><circle class="l mg" cx="150" cy="537" r="3"/><circle class="l mg" cx="140" cy="531" r="2"/><circle class="l mg" cx="127" cy="531" r="2"/>
<circle class="l mg" cx="27" cy="636" r="5"/><circle class="l mg" cx="37" cy="635" r="3"/><circle class="l mg" cx="49" cy="633" r="2"/><circle class="l mg" cx="65" cy="633" r="1.5"/><circle class="l mg" cx="78" cy="635" r="4"/><circle class="l mg" cx="91" cy="637" r="6"/><circle class="l mg" cx="81" cy="623" r="2"/><circle class="l mg" cx="91" cy="627" r="2"/><circle class="l mg" cx="47" cy="645" r="4"/><circle class="l mg" cx="58" cy="643" r="3"/><circle class="l mg" cx="71" cy="643" r="2"/><circle class="l mg" cx="85" cy="646" r="3"/><circle class="l mg" cx="31" cy="647" r="2"/><circle class="l mg" cx="40" cy="652" r="4"/><circle class="l mg" cx="53" cy="655" r="3"/><circle class="l mg" cx="64" cy="654" r="4"/><circle class="l mg" cx="76" cy="652" r="2"/>
</g>
<g id="greenleft">
<circle class="i gr" cx="215" cy="607" r="4.5"/>
<circle class="l gr" cx="230" cy="582" r="6"/><circle class="l gr" cx="190" cy="607" r="6"/><circle class="l gr" cx="237" cy="593" r="4"/><circle class="l gr" cx="247" cy="590" r="5"/><circle class="l gr" cx="253" cy="600" r="14"/><circle class="l gr" cx="260" cy="610" r="9"/><circle class="l gr" cx="248" cy="616" r="3"/><circle class="l gr" cx="257" cy="622" r="3"/><circle class="l gr" cx="263" cy="629" r="2"/><circle class="l gr" cx="239" cy="624" r="7"/><circle class="l gr" cx="228" cy="633" r="5"/><circle class="l gr" cx="213" cy="635" r="8"/><circle class="l gr" cx="202" cy="636" r="3"/><circle class="l gr" cx="194" cy="626" r="4"/><circle class="l gr" cx="184" cy="618" r="2"/><circle class="l gr" cx="178" cy="627" r="2"/><circle class="l gr" cx="175" cy="637" r="3"/><circle class="l gr" cx="188" cy="636" r="6"/><circle class="l gr" cx="187" cy="647" r="5"/><circle class="l gr" cx="175" cy="647" r="2"/><circle class="l gr" cx="178" cy="657" r="7"/><circle class="l gr" cx="183" cy="666" r="2"/><circle class="l gr" cx="192" cy="658" r="2"/><circle class="l gr" cx="198" cy="648" r="2"/><circle class="l gr" cx="209" cy="648" r="7"/><circle class="l gr" cx="220" cy="645" r="6"/><circle class="l gr" cx="230" cy="650" r="6"/><circle class="l gr" cx="233" cy="642" r="5"/><circle class="l gr" cx="243" cy="637" r="6"/><circle class="l gr" cx="248" cy="647" r="8"/><circle class="l gr" cx="256" cy="649" r="5"/><circle class="l gr" cx="252" cy="655" r="3"/><circle class="l gr" cx="238" cy="657" r="5"/><circle class="l gr" cx="229" cy="665" r="4"/><circle class="l gr" cx="218" cy="658" r="5"/><circle class="l gr" cx="207" cy="660" r="3"/><circle class="l gr" cx="208" cy="667" r="6"/><circle class="l gr" cx="219" cy="666" r="2"/><circle class="l gr" cx="230" cy="673" r="7"/><circle class="l gr" cx="238" cy="669" r="5"/><circle class="l gr" cx="245" cy="667" r="3"/><circle class="l gr" cx="200" cy="678" r="2"/><circle class="l gr" cx="210" cy="681" r="2"/><circle class="l gr" cx="220" cy="681" r="2"/><circle class="l gr" cx="190" cy="673" r="2"/>
<circle class="i ye" cx="28" cy="732" r="4.5"/><circle class="l ye" cx="4" cy="709" r="6"/><circle class="l ye" cx="53" cy="722" r="11"/><circle class="l ye" cx="69" cy="720" r="10"/><circle class="l ye" cx="87" cy="706" r="3"/><circle class="l ye" cx="103" cy="727" r="8"/><circle class="l ye" cx="115" cy="734" r="6"/><circle class="l ye" cx="47" cy="733" r="3"/>
</g>
<g id="centerpurple">
<circle class="i pu" cx="322" cy="261" r="4.5"/><circle class="i pu" cx="305" cy="312" r="4.5"/><circle class="i pu" cx="331" cy="334" r="4.5"/><circle class="i bl" cx="391" cy="293" r="4.5"/>
<circle class="l pu" cx="315" cy="297" r="5"/><circle class="l pu" cx="331" cy="299" r="3"/><circle class="l pu" cx="283" cy="335" r="5"/><circle class="l pu" cx="287" cy="345" r="2"/><circle class="l pu" cx="295" cy="352" r="4"/><circle class="l pu" cx="305" cy="344" r="6"/>
<circle class="l pu" cx="311" cy="363" r="5"/><circle class="l pu" cx="312" cy="373" r="4"/><circle class="l pu" cx="323" cy="363" r="5"/><circle class="l pu" cx="329" cy="373" r="7"/><circle class="l pu" cx="318" cy="382" r="8"/><circle class="l pu" cx="333" cy="386" r="9"/><circle class="l pu" cx="338" cy="367" r="6"/><circle class="l pu" cx="347" cy="358" r="7"/><circle class="l pu" cx="358" cy="349" r="8"/><circle class="l pu" cx="359" cy="362" r="4"/><circle class="l pu" cx="352" cy="372" r="7"/><circle class="l pu" cx="343" cy="379" r="4"/>
<circle class="l bl" cx="392" cy="328" r="4"/><circle class="l bl" cx="399" cy="336" r="6"/><circle class="l bl" cx="410" cy="329" r="5"/><circle class="l bl" cx="381" cy="331" r="1.5"/>
</g>
<g id="centerclusters">
<circle class="i bl" cx="461" cy="336" r="4.5"/><circle class="i or" cx="477" cy="356" r="4.5"/><circle class="i bl" cx="454" cy="380" r="4.5"/><circle class="i or" cx="478" cy="405" r="4.5"/><circle class="i or" cx="491" cy="397" r="4.5"/><circle class="i rp" cx="503" cy="391" r="4.5"/>
<circle class="l bl" cx="417" cy="383" r="7"/><circle class="l bl" cx="427" cy="378" r="8"/><circle class="l bl" cx="419" cy="393" r="7"/><circle class="l bl" cx="428" cy="393" r="5"/><circle class="l bl" cx="422" cy="403" r="5"/><circle class="l bl" cx="437" cy="400" r="8"/><circle class="l bl" cx="433" cy="411" r="5"/><circle class="l bl" cx="443" cy="414" r="5"/><circle class="l bl" cx="454" cy="413" r="9"/><circle class="l bl" cx="463" cy="411" r="13"/><circle class="l or" cx="463" cy="375" r="13"/>
<circle class="i or" cx="419" cy="433" r="4.5"/>
<circle class="l or" cx="377" cy="432" r="6"/><circle class="l or" cx="388" cy="425" r="6"/><circle class="l or" cx="389" cy="438" r="3"/><circle class="l or" cx="369" cy="448" r="5"/><circle class="l or" cx="379" cy="443" r="4"/><circle class="l or" cx="394" cy="450" r="7"/><circle class="l or" cx="380" cy="456" r="7"/><circle class="l or" cx="390" cy="461" r="6"/><circle class="l or" cx="404" cy="457" r="6"/><circle class="l or" cx="415" cy="463" r="7"/><circle class="l or" cx="427" cy="460" r="6"/><circle class="l or" cx="433" cy="457" r="7"/><circle class="l or" cx="447" cy="453" r="7"/><circle class="l or" cx="445" cy="465" r="6"/><circle class="l or" cx="434" cy="472" r="7"/><circle class="l or" cx="414" cy="476" r="6"/><circle class="l or" cx="399" cy="478" r="6"/><circle class="l or" cx="387" cy="477" r="4"/><circle class="l or" cx="375" cy="471" r="4"/><circle class="l or" cx="403" cy="469" r="6"/><circle class="l or" cx="423" cy="473" r="6"/><circle class="l or" cx="371" cy="460" r="2"/>
<circle class="l or" cx="470" cy="440" r="6"/><circle class="l or" cx="481" cy="444" r="5"/><circle class="l or" cx="489" cy="449" r="7"/>
<circle class="l rp" cx="498" cy="418" r="5"/><circle class="l rp" cx="508" cy="424" r="4"/><circle class="l or" cx="496" cy="437" r="4"/><circle class="l or" cx="508" cy="440" r="4"/><circle class="l rp" cx="517" cy="419" r="2"/><circle class="l rp" cx="527" cy="417" r="1.5"/>
<circle class="i rp" cx="513" cy="313" r="4.5"/><circle class="i bl" cx="516" cy="319" r="4.5"/><circle class="i rp" cx="552" cy="344" r="4.5"/><circle class="i bl" cx="529" cy="365" r="4.5"/><circle class="i rp" cx="542" cy="411" r="4.5"/><circle class="i pk" cx="545" cy="425" r="4.5"/><circle class="i rp" cx="530" cy="437" r="4.5"/><circle class="i rp" cx="539" cy="458" r="4.5"/><circle class="i rp" cx="567" cy="495" r="4.5"/><circle class="i gr" cx="545" cy="510" r="4.5"/><circle class="i rp" cx="557" cy="507" r="4.5"/><circle class="i rp" cx="570" cy="506" r="4.5"/><circle class="i rp" cx="565" cy="544" r="4.5"/><circle class="i gr" cx="563" cy="573" r="4.5"/><circle class="i gr" cx="549" cy="599" r="4.5"/><circle class="i gr" cx="566" cy="646" r="4.5"/><circle class="i bl" cx="620" cy="400" r="4.5"/>
<circle class="l pk" cx="526" cy="378" r="13"/><circle class="l rp" cx="534" cy="392" r="6"/><circle class="l rp" cx="528" cy="403" r="7"/><circle class="l rp" cx="527" cy="342" r="4"/><circle class="l rp" cx="540" cy="330" r="2"/>
<circle class="l bl" cx="563" cy="381" r="7"/><circle class="l bl" cx="572" cy="392" r="4"/><circle class="l bl" cx="558" cy="390" r="3"/><circle class="l bl" cx="561" cy="400" r="2"/>
<circle class="l rp" cx="557" cy="460" r="2"/><circle class="l rp" cx="560" cy="469" r="3"/><circle class="l rp" cx="565" cy="438" r="4"/><circle class="l pk" cx="572" cy="455" r="4"/><circle class="l rp" cx="533" cy="475" r="5"/><circle class="l rp" cx="546" cy="473" r="3"/><circle class="l rp" cx="593" cy="524" r="3"/><circle class="l rp" cx="577" cy="539" r="4"/><circle class="l rp" cx="593" cy="543" r="3"/><circle class="l rp" cx="608" cy="519" r="5"/>
<circle class="l gr" cx="563" cy="554" r="8"/><circle class="l gr" cx="561" cy="615" r="4"/><circle class="l gr" cx="573" cy="613" r="3"/>
<circle class="l gr" cx="528" cy="640" r="5"/><circle class="l gr" cx="540" cy="637" r="5"/><circle class="l gr" cx="533" cy="650" r="4"/><circle class="l gr" cx="545" cy="652" r="4"/><circle class="l gr" cx="552" cy="643" r="7"/><circle class="l gr" cx="559" cy="638" r="4"/>
<circle class="l gr" cx="542" cy="685" r="8"/><circle class="l gr" cx="556" cy="677" r="8"/><circle class="l gr" cx="568" cy="680" r="8"/><circle class="l gr" cx="587" cy="683" r="11"/><circle class="l gr" cx="550" cy="693" r="6"/><circle class="l gr" cx="568" cy="693" r="4"/><circle class="l gr" cx="583" cy="694" r="4"/><circle class="l gr" cx="557" cy="700" r="4"/><circle class="l gr" cx="565" cy="703" r="8"/><circle class="l gr" cx="577" cy="702" r="9"/><circle class="l gr" cx="542" cy="697" r="3"/>
</g>
<g id="orangebig">
<circle class="i or" cx="453" cy="533" r="4"/>
<circle class="l or" cx="457" cy="507" r="5"/><circle class="l or" cx="473" cy="512" r="8"/><circle class="l or" cx="484" cy="515" r="6"/><circle class="l or" cx="433" cy="515" r="6"/><circle class="l or" cx="420" cy="519" r="4"/><circle class="l or" cx="494" cy="523" r="6"/><circle class="l or" cx="481" cy="527" r="6"/><circle class="l or" cx="412" cy="528" r="7"/><circle class="l or" cx="399" cy="532" r="4"/><circle class="l or" cx="411" cy="535" r="4"/><circle class="l or" cx="424" cy="540" r="7"/><circle class="l or" cx="489" cy="535" r="6"/><circle class="l or" cx="500" cy="533" r="4"/><circle class="l or" cx="398" cy="542" r="4"/><circle class="l or" cx="412" cy="545" r="6"/><circle class="l or" cx="394" cy="551" r="6"/><circle class="l or" cx="405" cy="554" r="6"/><circle class="l or" cx="424" cy="551" r="4"/><circle class="l or" cx="479" cy="543" r="6"/><circle class="l or" cx="502" cy="543" r="5"/><circle class="l or" cx="490" cy="549" r="4"/><circle class="l or" cx="505" cy="553" r="6"/><circle class="l or" cx="472" cy="554" r="6"/><circle class="l or" cx="436" cy="556" r="3"/><circle class="l or" cx="447" cy="562" r="6"/><circle class="l or" cx="462" cy="560" r="6"/><circle class="l or" cx="482" cy="560" r="6"/><circle class="l or" cx="495" cy="558" r="4"/><circle class="l or" cx="503" cy="567" r="4"/><circle class="l or" cx="393" cy="563" r="7"/><circle class="l or" cx="405" cy="563" r="5"/><circle class="l or" cx="417" cy="557" r="4"/><circle class="l or" cx="427" cy="565" r="4"/><circle class="l or" cx="411" cy="572" r="6"/><circle class="l or" cx="420" cy="571" r="4"/><circle class="l or" cx="438" cy="570" r="3"/><circle class="l or" cx="447" cy="577" r="4"/><circle class="l or" cx="457" cy="570" r="4"/><circle class="l or" cx="467" cy="574" r="6"/><circle class="l or" cx="477" cy="568" r="6"/><circle class="l or" cx="491" cy="569" r="4"/><circle class="l or" cx="398" cy="573" r="4"/><circle class="l or" cx="408" cy="580" r="6"/><circle class="l or" cx="417" cy="582" r="5"/><circle class="l or" cx="429" cy="578" r="4"/><circle class="l or" cx="438" cy="582" r="3"/><circle class="l or" cx="458" cy="580" r="6"/><circle class="l or" cx="468" cy="578" r="5"/><circle class="l or" cx="477" cy="584" r="6"/><circle class="l or" cx="490" cy="587" r="7"/><circle class="l or" cx="497" cy="578" r="3"/><circle class="l or" cx="427" cy="589" r="4"/><circle class="l or" cx="437" cy="588" r="3"/><circle class="l or" cx="449" cy="587" r="4"/><circle class="l or" cx="465" cy="589" r="5"/><circle class="l or" cx="476" cy="593" r="4"/><circle class="l or" cx="484" cy="594" r="3"/><circle class="l or" cx="417" cy="593" r="5"/><circle class="l or" cx="430" cy="600" r="4"/><circle class="l or" cx="442" cy="594" r="5"/><circle class="l or" cx="442" cy="603" r="5"/><circle class="l or" cx="452" cy="604" r="4"/><circle class="l or" cx="458" cy="597" r="4"/><circle class="l or" cx="467" cy="603" r="3"/>
</g>
<g id="bottompurple">
<circle class="i pu" cx="333" cy="597" r="4.5"/><circle class="i pu" cx="368" cy="615" r="4.5"/><circle class="i pu" cx="328" cy="679" r="4.5"/><circle class="i pu" cx="364" cy="667" r="4.5"/><circle class="i pu" cx="431" cy="723" r="4.5"/>
<circle class="l pu" cx="334" cy="634" r="8"/>
<circle class="l pu" cx="311" cy="703" r="11"/><circle class="l pu" cx="302" cy="697" r="3"/><circle class="l pu" cx="299" cy="708" r="1.5"/><circle class="l pu" cx="313" cy="717" r="4"/><circle class="l pu" cx="302" cy="719" r="5"/><circle class="l pu" cx="324" cy="707" r="4"/><circle class="l pu" cx="335" cy="712" r="5"/><circle class="l pu" cx="344" cy="700" r="5"/><circle class="l pu" cx="346" cy="712" r="7"/><circle class="l pu" cx="326" cy="721" r="3"/><circle class="l pu" cx="345" cy="722" r="5"/><circle class="l pu" cx="337" cy="728" r="6"/><circle class="l pu" cx="325" cy="731" r="5"/><circle class="l pu" cx="313" cy="727" r="3"/>
<circle class="l pu" cx="358" cy="696" r="4"/><circle class="l pu" cx="368" cy="702" r="4"/><circle class="l pu" cx="376" cy="693" r="3"/><circle class="l pu" cx="388" cy="683" r="3"/><circle class="l pu" cx="395" cy="671" r="4"/><circle class="l pu" cx="402" cy="680" r="3"/><circle class="l pu" cx="403" cy="691" r="4"/><circle class="l pu" cx="392" cy="693" r="5"/><circle class="l pu" cx="383" cy="701" r="4"/><circle class="l pu" cx="396" cy="702" r="4"/><circle class="l pu" cx="386" cy="711" r="5"/><circle class="l pu" cx="376" cy="715" r="5"/><circle class="l pu" cx="366" cy="713" r="3"/>
<circle class="l pu" cx="461" cy="729" r="6"/><circle class="l pu" cx="465" cy="719" r="2"/><circle class="l pu" cx="475" cy="727" r="3"/><circle class="l pu" cx="300" cy="718" r="6"/>
</g>
<g id="pinkfan">
<circle class="i pk" cx="647" cy="567" r="4.5"/>
<circle class="i pk" cx="617" cy="583" r="4.5"/><circle class="i pk" cx="621" cy="597" r="4.5"/><circle class="i pk" cx="628" cy="606" r="4.5"/><circle class="i pk" cx="638" cy="599" r="4.5"/><circle class="i pk" cx="654" cy="596" r="4.5"/><circle class="i pk" cx="672" cy="587" r="4.5"/><circle class="i pk" cx="677" cy="605" r="4.5"/><circle class="i pk" cx="682" cy="621" r="4.5"/><circle class="i pk" cx="693" cy="615" r="4.5"/><circle class="i pk" cx="643" cy="616" r="4.5"/><circle class="i pk" cx="640" cy="648" r="4.5"/><circle class="i pk" cx="624" cy="668" r="4.5"/><circle class="i pk" cx="647" cy="673" r="4.5"/><circle class="i pk" cx="657" cy="683" r="4.5"/><circle class="i pk" cx="666" cy="647" r="4.5"/><circle class="i pk" cx="678" cy="636" r="4.5"/><circle class="i pk" cx="691" cy="648" r="4.5"/><circle class="i pk" cx="712" cy="626" r="4.5"/><circle class="i pk" cx="718" cy="651" r="4.5"/><circle class="i pk" cx="742" cy="669" r="4.5"/><circle class="i pk" cx="721" cy="678" r="4.5"/><circle class="i pk" cx="776" cy="686" r="4.5"/><circle class="i pk" cx="711" cy="708" r="4.5"/><circle class="i pk" cx="734" cy="727" r="4.5"/><circle class="i pk" cx="686" cy="729" r="4.5"/><circle class="i pk" cx="637" cy="731" r="4.5"/><circle class="i pk" cx="763" cy="647" r="4.5"/><circle class="i pk" cx="793" cy="659" r="4.5"/><circle class="i pk" cx="815" cy="646" r="4.5"/><circle class="i rp" cx="673" cy="615" r="4.5"/>
<circle class="i pk" cx="680" cy="567" r="4.5"/><circle class="i pk" cx="682" cy="577" r="4.5"/><circle class="i pk" cx="697" cy="584" r="4.5"/><circle class="i pk" cx="725" cy="587" r="4.5"/><circle class="i pk" cx="702" cy="604" r="4.5"/><circle class="i pk" cx="720" cy="613" r="4.5"/><circle class="i pk" cx="732" cy="606" r="4.5"/><circle class="i pk" cx="754" cy="607" r="4.5"/><circle class="i pk" cx="802" cy="608" r="4.5"/>
<circle class="l pk" cx="629" cy="583" r="6"/><circle class="l pk" cx="601" cy="614" r="9"/><circle class="l pk" cx="604" cy="633" r="7"/><circle class="l pk" cx="611" cy="648" r="5"/><circle class="l pk" cx="623" cy="632" r="2"/><circle class="l pk" cx="627" cy="653" r="5"/><circle class="l pk" cx="653" cy="629" r="4"/><circle class="l pk" cx="632" cy="693" r="4"/><circle class="l pk" cx="618" cy="713" r="4"/><circle class="l pk" cx="652" cy="716" r="4"/><circle class="l pk" cx="676" cy="697" r="5"/><circle class="l pk" cx="665" cy="727" r="6"/><circle class="l pk" cx="703" cy="636" r="5"/><circle class="l pk" cx="706" cy="658" r="3"/><circle class="l pk" cx="698" cy="678" r="4"/><circle class="l pk" cx="705" cy="693" r="4"/><circle class="l pk" cx="730" cy="642" r="5"/><circle class="l pk" cx="747" cy="654" r="5"/><circle class="l pk" cx="748" cy="685" r="5"/><circle class="l pk" cx="735" cy="712" r="5"/><circle class="l pk" cx="748" cy="707" r="5"/><circle class="l pk" cx="766" cy="707" r="4"/><circle class="l pk" cx="776" cy="700" r="4"/><circle class="l pk" cx="792" cy="678" r="5"/><circle class="l pk" cx="802" cy="669" r="3"/><circle class="l pk" cx="828" cy="678" r="4"/><circle class="l pk" cx="828" cy="693" r="7"/><circle class="l pk" cx="836" cy="687" r="6"/><circle class="l pk" cx="819" cy="688" r="3"/><circle class="l pk" cx="812" cy="709" r="5"/><circle class="l pk" cx="801" cy="715" r="3"/><circle class="l pk" cx="811" cy="722" r="3"/><circle class="l pk" cx="796" cy="725" r="5"/><circle class="l pk" cx="846" cy="671" r="7"/><circle class="l pk" cx="857" cy="672" r="4"/><circle class="l pk" cx="851" cy="659" r="6"/><circle class="l pk" cx="863" cy="659" r="6"/><circle class="l pk" cx="857" cy="648" r="4"/>
<circle class="l rp" cx="659" cy="651" r="7"/><circle class="l rp" cx="651" cy="657" r="7"/><circle class="l rp" cx="667" cy="667" r="10"/><circle class="l rp" cx="674" cy="665" r="8"/><circle class="l rp" cx="690" cy="661" r="5"/><circle class="l rp" cx="681" cy="659" r="2"/>
<circle class="l pk" cx="725" cy="566" r="10"/><circle class="l pk" cx="731" cy="578" r="3"/><circle class="l pk" cx="710" cy="594" r="4"/><circle class="l pk" cx="743" cy="592" r="4"/><circle class="l pk" cx="769" cy="589" r="8"/><circle class="l pk" cx="741" cy="626" r="9"/><circle class="l pk" cx="775" cy="617" r="7"/><circle class="l pk" cx="761" cy="633" r="3"/><circle class="l pk" cx="792" cy="629" r="4"/><circle class="l pk" cx="833" cy="618" r="7"/><circle class="l pk" cx="838" cy="605" r="4"/><circle class="l pk" cx="845" cy="616" r="4"/><circle class="l pk" cx="840" cy="628" r="4"/><circle class="l pk" cx="828" cy="632" r="3"/><circle class="l pk" cx="762" cy="456" r="8"/>
</g>
<g id="rightsky">
<circle class="i rp" cx="749" cy="452" r="4.5"/><circle class="i rp" cx="743" cy="464" r="4.5"/><circle class="i rp" cx="729" cy="469" r="4.5"/><circle class="i rp" cx="718" cy="477" r="4.5"/><circle class="i rp" cx="736" cy="477" r="4.5"/><circle class="i rp" cx="709" cy="489" r="4.5"/><circle class="i rp" cx="774" cy="466" r="4.5"/><circle class="i rp" cx="826" cy="493" r="4.5"/><circle class="i rp" cx="693" cy="523" r="4.5"/><circle class="i rp" cx="709" cy="531" r="4.5"/><circle class="i rp" cx="812" cy="528" r="4.5"/><circle class="i rp" cx="803" cy="541" r="4.5"/><circle class="i gr" cx="862" cy="543" r="4.5"/><circle class="i gr" cx="788" cy="410" r="4.5"/>
<circle class="i sk" cx="704" cy="410" r="4.5"/><circle class="i sk" cx="670" cy="457" r="4.5"/><circle class="i sk" cx="688" cy="461" r="4.5"/><circle class="i bl" cx="690" cy="330" r="4.5"/>
<circle class="l sk" cx="716" cy="437" r="10"/><circle class="l sk" cx="696" cy="446" r="6"/><circle class="l sk" cx="711" cy="451" r="5"/><circle class="l sk" cx="700" cy="454" r="4"/><circle class="l sk" cx="678" cy="432" r="5"/><circle class="l sk" cx="672" cy="441" r="2"/><circle class="l sk" cx="692" cy="437" r="3"/><circle class="l sk" cx="735" cy="427" r="3"/><circle class="l sk" cx="731" cy="438" r="2"/><circle class="l sk" cx="668" cy="372" r="7"/><circle class="l sk" cx="680" cy="372" r="8"/><circle class="l sk" cx="676" cy="390" r="5"/><circle class="l sk" cx="664" cy="410" r="5"/><circle class="l sk" cx="656" cy="420" r="5"/><circle class="l sk" cx="662" cy="430" r="5"/><circle class="l sk" cx="672" cy="448" r="4"/><circle class="l sk" cx="681" cy="499" r="7"/><circle class="l sk" cx="665" cy="493" r="5"/><circle class="l sk" cx="645" cy="490" r="4"/><circle class="l sk" cx="655" cy="492" r="4"/><circle class="l rp" cx="703" cy="432" r="2"/>
<circle class="i bl" cx="717" cy="318" r="4.5"/>
<circle class="l bl" cx="737" cy="303" r="5"/><circle class="l bl" cx="748" cy="300" r="5"/><circle class="l bl" cx="757" cy="307" r="6"/><circle class="l bl" cx="765" cy="300" r="5"/><circle class="l bl" cx="775" cy="305" r="6"/><circle class="l bl" cx="785" cy="318" r="5"/><circle class="l bl" cx="778" cy="328" r="6"/><circle class="l bl" cx="770" cy="335" r="5"/><circle class="l bl" cx="760" cy="325" r="6"/><circle class="l bl" cx="750" cy="330" r="5"/><circle class="l bl" cx="740" cy="340" r="5"/><circle class="l bl" cx="730" cy="345" r="4"/><circle class="l bl" cx="745" cy="352" r="5"/><circle class="l bl" cx="755" cy="345" r="5"/><circle class="l bl" cx="765" cy="350" r="5"/><circle class="l bl" cx="775" cy="345" r="5"/><circle class="l bl" cx="786" cy="340" r="4"/><circle class="l bl" cx="738" cy="325" r="4"/><circle class="l bl" cx="748" cy="318" r="4"/><circle class="l bl" cx="758" cy="315" r="4"/><circle class="l bl" cx="770" cy="318" r="5"/><circle class="l bl" cx="722" cy="350" r="5"/><circle class="l bl" cx="712" cy="352" r="4"/><circle class="l bl" cx="730" cy="360" r="5"/><circle class="l bl" cx="740" cy="365" r="5"/><circle class="l bl" cx="752" cy="363" r="4"/><circle class="l bl" cx="762" cy="370" r="4"/><circle class="l bl" cx="772" cy="360" r="5"/><circle class="l bl" cx="718" cy="365" r="4"/>
<circle class="l gr" cx="722" cy="375" r="9"/><circle class="l gr" cx="737" cy="382" r="9"/><circle class="l gr" cx="725" cy="385" r="5"/>
</g>
<g id="rightgreen">
<circle class="i gr" cx="910" cy="405" r="4.5"/>
<circle class="l gr" cx="885" cy="418" r="7"/><circle class="l gr" cx="893" cy="427" r="9"/><circle class="l gr" cx="897" cy="435" r="8"/><circle class="l gr" cx="890" cy="442" r="6"/><circle class="l gr" cx="900" cy="420" r="5"/><circle class="l gr" cx="912" cy="423" r="5"/><circle class="l gr" cx="922" cy="430" r="6"/><circle class="l gr" cx="930" cy="420" r="5"/><circle class="l gr" cx="935" cy="398" r="12"/><circle class="l gr" cx="940" cy="430" r="8"/><circle class="l gr" cx="925" cy="445" r="4"/><circle class="l gr" cx="915" cy="440" r="4"/><circle class="l gr" cx="905" cy="455" r="3"/><circle class="l gr" cx="932" cy="455" r="4"/><circle class="l gr" cx="920" cy="465" r="3"/><circle class="l gr" cx="930" cy="475" r="3"/>
<circle class="l gr" cx="890" cy="497" r="7"/><circle class="l gr" cx="900" cy="503" r="7"/><circle class="l gr" cx="897" cy="515" r="7"/><circle class="l gr" cx="910" cy="510" r="5"/><circle class="l gr" cx="920" cy="520" r="6"/><circle class="l gr" cx="930" cy="525" r="5"/><circle class="l gr" cx="935" cy="540" r="4"/><circle class="l gr" cx="925" cy="540" r="3"/><circle class="l gr" cx="915" cy="530" r="4"/><circle class="l gr" cx="905" cy="530" r="3"/>
<circle class="l gr" cx="883" cy="582" r="6"/><circle class="l gr" cx="877" cy="589" r="5"/><circle class="l gr" cx="888" cy="593" r="3"/><circle class="l gr" cx="895" cy="583" r="2"/>
</g>
</svg>
